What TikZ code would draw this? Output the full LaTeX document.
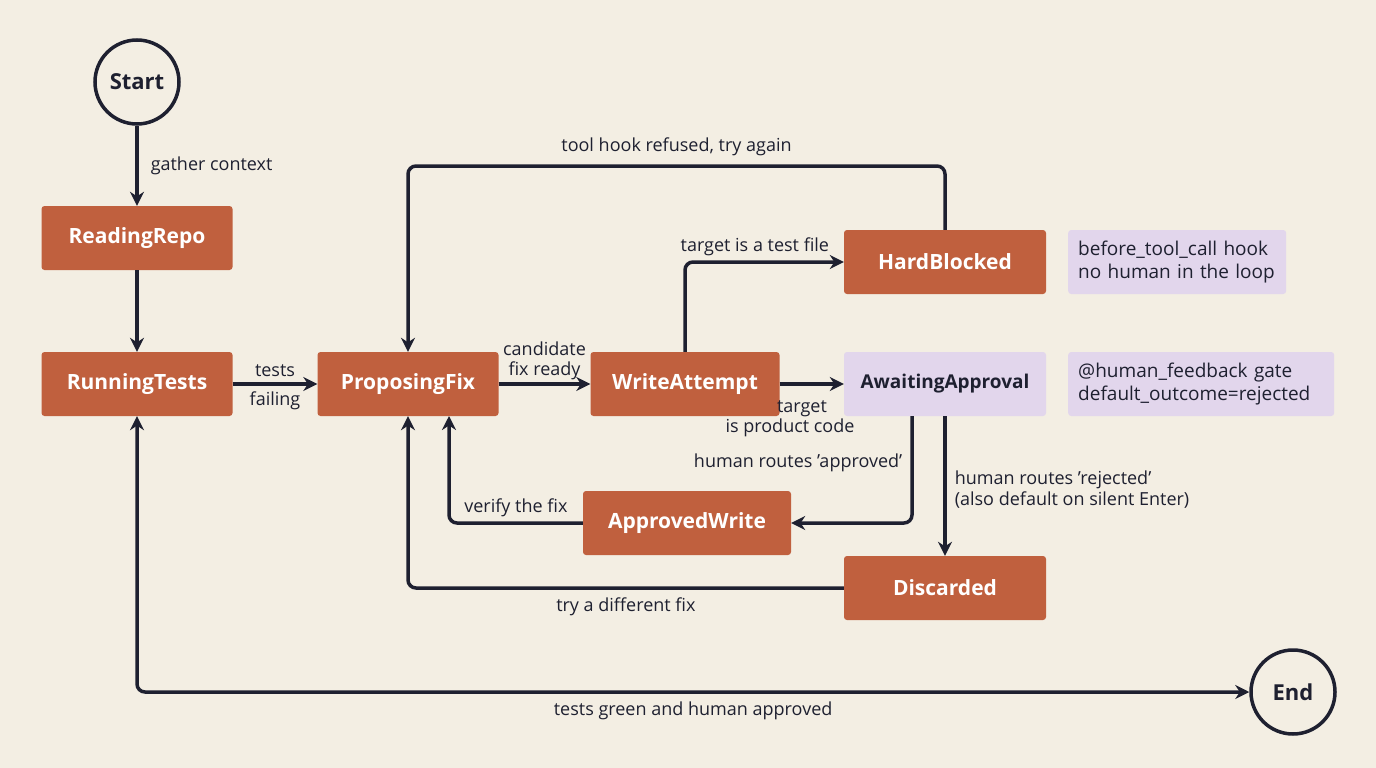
\documentclass[tikz,border=0pt]{standalone}
\usepackage{fontspec}
\setmainfont{Open Sans}
\usetikzlibrary{arrows.meta,backgrounds}
\definecolor{paper}{RGB}{243, 238, 227}
\definecolor{rust}{RGB}{192, 96, 62}
\definecolor{lavender}{RGB}{226, 214, 236}
\definecolor{ink}{RGB}{30, 32, 48}

\begin{document}
\begin{tikzpicture}[
        x=1pt, y=-1pt,
        background rectangle/.style={fill=paper},
        show background rectangle,
        state/.style={draw=none, fill=rust, text=white, font=\fontsize{21}{24}\selectfont\bfseries,
            rounded corners=3pt, minimum height=64pt, inner sep=0pt},
        gate/.style={state, fill=lavender, text=ink, font=\fontsize{19}{24}\selectfont\bfseries},
        note/.style={fill=lavender, text=ink, font=\fontsize{19}{23}\selectfont, rounded corners=3pt,
            align=left, minimum height=64pt, inner sep=0pt, text width=#1, anchor=west},
        term/.style={circle, draw=ink, line width=3.5pt, fill=paper, text=ink,
            font=\fontsize{22}{24}\selectfont\bfseries, minimum size=84pt, inner sep=0pt},
        flow/.style={draw=ink, line width=3.5pt, rounded corners=8pt, -{Stealth[length=14pt,width=14pt]}},
        lbl/.style={text=ink, font=\fontsize{18}{21}\selectfont, align=center, inner sep=2pt}
    ]
    \useasboundingbox (0,0) rectangle (1376,768);

    % states
    \node[term] (start) at (137,82) {Start};
    \node[state, minimum width=191pt] (read) at (137,238) {ReadingRepo};
    \node[state, minimum width=191pt] (run) at (137,384) {RunningTests};
    \node[state, minimum width=181pt] (prop) at (408,384) {ProposingFix};
    \node[state, minimum width=189pt] (write) at (685,384) {WriteAttempt};
    \node[state, minimum width=202pt] (hard) at (945,262) {HardBlocked};
    \node[gate, minimum width=202pt] (await) at (945,384) {AwaitingApproval};
    \node[state, minimum width=208pt] (appr) at (687,523) {ApprovedWrite};
    \node[state, minimum width=202pt] (disc) at (945,588) {Discarded};
    \node[term] (end) at (1293,692) {End};

    % notes
    \node[note=218pt] (hooknote) at (1068,262) {\hspace{10pt}before\_tool\_call hook\\\hspace{10pt}no human in the loop};
    \node[note=266pt] (gatenote) at (1068,384) {\hspace{10pt}@human\_feedback gate\\\hspace{10pt}default\_outcome=rejected};

    % transitions
    \draw[flow] (start) -- (read) node[lbl, midway, right=10pt] {gather context};
    \draw[flow] (read) -- (run);
    \draw[flow] (run) -- (prop) node[lbl, midway, above=4pt] {tests} node[lbl, midway, below=4pt] {failing};
    \draw[flow] (prop) -- (write) node[lbl, midway, above, font=\fontsize{18}{20}\selectfont] {candidate\\fix ready};
    \draw[flow] (write.north) |- (hard.west) node[lbl, pos=0.72, above=2pt] {target is a test file};
    \draw[flow] (hard.north) -- (945,166) -| (prop.north) node[lbl, pos=0.25, above=6pt] {tool hook refused, try again};
    \draw[flow] (write) -- (await);
    \node[lbl, font=\fontsize{18}{20}\selectfont] (prodlbl) at (790,419) {\hspace*{24pt}target\\is product code};
    \draw[flow] (912,416) |- (appr.east) node[lbl, pos=0.2, left=6pt, yshift=-4pt] {human routes 'approved'};
    \draw[flow] (await.south) -- (disc.north) node[lbl, midway, right=6pt, align=left, yshift=-4pt] {human routes 'rejected'\\(also default on silent Enter)};
    \draw[flow] (appr.west) -| (449,416) node[lbl, pos=0.25, above=2pt] {verify the fix};
    \draw[flow] (disc.west) -| (prop.south) node[lbl, pos=0.25, below=6pt] {try a different fix};
    \draw[flow, {Stealth[length=14pt,width=14pt]}-{Stealth[length=14pt,width=14pt]}] (run.south) |- (end.west) node[lbl, pos=0.75, below=6pt] {tests green and human approved};
\end{tikzpicture}
\end{document}
